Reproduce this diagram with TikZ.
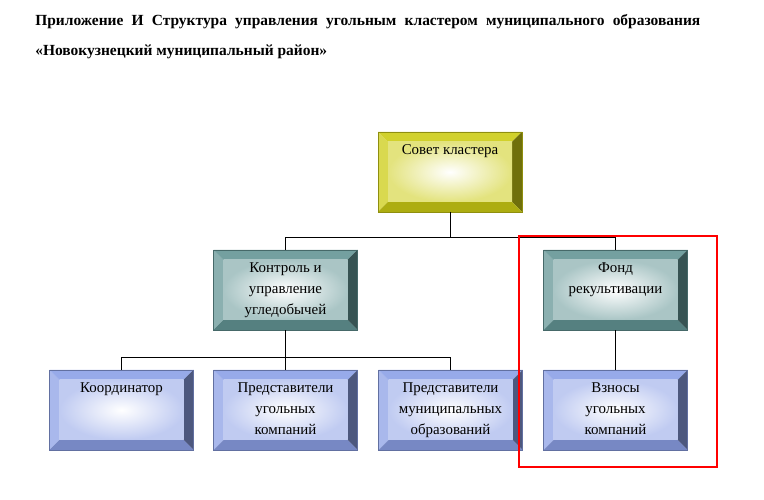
\documentclass[tikz,border=0pt]{standalone}
\usepackage{fontspec}
\setmainfont{Liberation Serif}
\usetikzlibrary{positioning}
\definecolor{yel}{RGB}{204,204,20}
\definecolor{tealc}{RGB}{100,150,150}
\definecolor{blu}{RGB}{140,160,230}

\begin{document}
\begin{tikzpicture}[
    box/.style={rectangle, draw=#1!70!black, line width=0.3pt, minimum width=2.88cm, minimum height=1.6cm, inner sep=0pt,
      font=\fontsize{8.5}{12}\selectfont,
      path picture={
        \coordinate (o1) at (path picture bounding box.south west);
        \coordinate (o2) at (path picture bounding box.north east);
        \coordinate (i1) at ([shift={(0.2,0.2)}]o1);
        \coordinate (i2) at ([shift={(-0.2,-0.2)}]o2);
        \fill[#1!75!white] (o1) -- (o1|-o2) -- (i1|-i2) -- (i1) -- cycle;
        \fill[#1!90!white] (o1|-o2) -- (o2) -- (i2) -- (i1|-i2) -- cycle;
        \fill[#1!55!black] (o2) -- (o2|-o1) -- (i2|-i1) -- (i2) -- cycle;
        \fill[#1!85!black] (o1) -- (o2|-o1) -- (i2|-i1) -- (i1) -- cycle;
        \shade[inner color=white, outer color=#1!55!white] (i1) rectangle (i2);
      }},
    conn/.style={line width=0.5pt}
]
\useasboundingbox (0,0) rectangle (15.28,10);

% Title
\node[anchor=north west, text width=13.3cm, align=justify, font=\fontsize{8.8}{17}\selectfont\bfseries, inner sep=0pt] (title) at (0.7,9.72)
  {Приложение И Структура управления угольным кластером муниципального образования «Новокузнецкий муниципальный район»};

% Boxes
\node[box=yel] (sovet) at (9.0,6.56) {\parbox[t][1.3cm][t]{2.4cm}{\centering\vspace{0.1cm} Совет кластера}};
\node[box=tealc] (kontrol) at (5.71,4.2) {\parbox[t][1.3cm][t]{2.1cm}{\centering\vspace{0.1cm} Контроль и управление угледобычей}};
\node[box=tealc] (fond) at (12.31,4.2) {\parbox[t][1.3cm][t]{2.2cm}{\centering\vspace{0.1cm} Фонд рекультивации}};

\node[box=blu] (koord) at (2.43,1.8) {\parbox[t][1.3cm][t]{2.4cm}{\centering\vspace{0.1cm} Координатор}};
\node[box=blu] (pred1) at (5.71,1.8) {\parbox[t][1.3cm][t]{2.2cm}{\centering\vspace{0.1cm} Представители угольных компаний}};
\node[box=blu] (pred2) at (9.01,1.8) {\parbox[t][1.3cm][t]{2.5cm}{\centering\vspace{0.1cm} Представители муниципальных образований}};
\node[box=blu] (vznos) at (12.31,1.8) {\parbox[t][1.3cm][t]{2.0cm}{\centering\vspace{0.1cm} Взносы угольных компаний}};

% Connectors
\coordinate (bus1) at ([yshift=-0.5cm]sovet.south);
\coordinate (bus2) at ([yshift=-0.54cm]kontrol.south);
\draw[conn] (sovet.south) -- (bus1);
\draw[conn] (bus1) -| (kontrol.north);
\draw[conn] (bus1) -| (fond.north);
\draw[conn] (kontrol.south) -- (bus2);
\draw[conn] (bus2) -| (koord.north);
\draw[conn] (bus2) -| (pred1.north);
\draw[conn] (bus2) -| (pred2.north);
\draw[conn] (fond.south) -- (vznos.north);

% Highlight
\draw[red, line width=1.2pt] (10.38,0.66) rectangle (14.34,5.28);
\end{tikzpicture}
\end{document}
